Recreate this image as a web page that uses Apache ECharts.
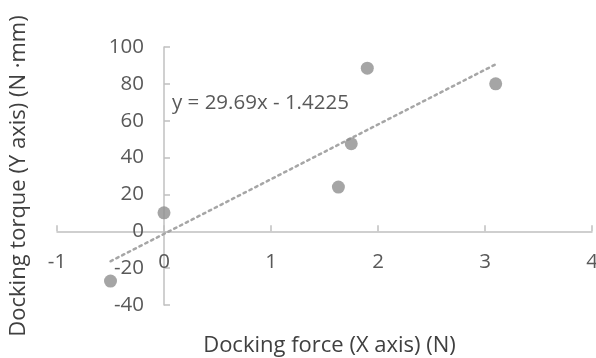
<!DOCTYPE html>
<html>
<head>
<meta charset="utf-8">
<script src="https://cdn.jsdelivr.net/npm/echarts@6/dist/echarts.min.js"></script>
<style>html,body{margin:0;padding:0;background:#fff}#c{width:596px;height:358px}</style>
</head>
<body>
<div id="c"></div>
<script>
const forceX = [-0.5, 0.0, 1.63, 1.75, 1.90, 3.10];
const torqueY = [-27, 10, 24, 47.5, 88.5, 80];
const trendSlope = 29.69;
const trendIntercept = -1.4225;
const trendLabel = 'y = 29.69x - 1.4225';
const xTicks = {min: -1, max: 4, interval: 1};
const yTicks = {min: -40, max: 100, interval: 20};

const points = forceX.map((x, i) => [x, torqueY[i]]);
const xMin = Math.min(...forceX), xMax = Math.max(...forceX);
const trend = [[xMin, trendSlope * xMin + trendIntercept], [xMax, trendSlope * xMax + trendIntercept]];

const W = 596, H = 358;
const G = {left: 57, right: 4, top: 47, bottom: 53};
const gw = W - G.left - G.right, gh = H - G.top - G.bottom;
// axes cross at zero: shift each axis from grid edge to the zero position
const yAxisOffset = -gw * (0 - xTicks.min) / (xTicks.max - xTicks.min);
const xAxisOffset = -gh * (0 - yTicks.min) / (yTicks.max - yTicks.min);

const FONT = '"Open Sans", sans-serif';
const chart = echarts.init(document.getElementById('c'), null, {renderer: 'canvas'});
chart.setOption({
  animation: false,
  backgroundColor: '#fff',
  grid: Object.assign({containLabel: false, outerBoundsMode: 'none'}, G),
  xAxis: {
    type: 'value', min: xTicks.min, max: xTicks.max, interval: xTicks.interval,
    position: 'bottom', offset: xAxisOffset,
    axisLine: {onZero: false, lineStyle: {color: '#c0c0c0', width: 1.5}},
    axisTick: {show: true, inside: true, length: 6, lineStyle: {color: '#c0c0c0', width: 1.5}},
    axisLabel: {color: '#595959', fontSize: 20.5, fontFamily: FONT, margin: 20},
    splitLine: {show: false},
    name: 'Docking force (X axis) (N)', nameLocation: 'middle', nameGap: 103,
    nameTextStyle: {color: '#404040', fontSize: 22, fontFamily: FONT, padding: [0, 0, 0, 10]}
  },
  yAxis: {
    type: 'value', min: yTicks.min, max: yTicks.max, interval: yTicks.interval,
    position: 'left', offset: yAxisOffset,
    axisLine: {onZero: false, lineStyle: {color: '#c0c0c0', width: 1.5}},
    axisTick: {show: true, inside: true, length: 6, lineStyle: {color: '#c0c0c0', width: 1.5}},
    axisLabel: {color: '#595959', fontSize: 20.5, fontFamily: FONT, margin: 20},
    splitLine: {show: false},
    name: 'Docking torque (Y axis) (N ·mm)', nameLocation: 'middle', nameGap: 134,
    nameTextStyle: {color: '#404040', fontSize: 22, fontFamily: FONT}
  },
  series: [
    {
      type: 'line', data: trend, symbol: 'none', silent: true,
      lineStyle: {color: '#a6a6a6', width: 2.5, type: [2.5, 4], cap: 'round'},
      z: 2
    },
    {
      type: 'scatter', data: points, symbol: 'circle', symbolSize: 13,
      itemStyle: {color: '#8f8f8f'}, z: 3
    }
  ],
  graphic: [{
    type: 'text', left: 172, top: 93,
    style: {text: trendLabel, fill: '#595959', font: '20.5px "Open Sans", sans-serif'}
  }]
});
</script>
</body>
</html>
